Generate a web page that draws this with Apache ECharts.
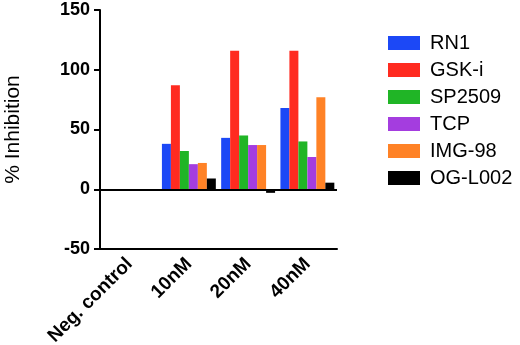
<!DOCTYPE html>
<html>
<head>
<meta charset="utf-8">
<script src="https://cdn.jsdelivr.net/npm/echarts@6/dist/echarts.min.js"></script>
<style>
html, body { margin: 0; padding: 0; background: #fff; }
#main { width: 520px; height: 345px; }
</style>
</head>
<body>
<div id="main"></div>
<script>
// 数据
var categories = ['Neg. control', '10nM', '20nM', '40nM'];
var seriesNames = ['RN1', 'GSK-i', 'SP2509', 'TCP', 'IMG-98', 'OG-L002'];
var rn1 = [0, 38, 43, 68];
var gski = [0, 87, 116, 116];
var sp2509 = [0, 32, 45, 40];
var tcp = [0, 21, 37, 27];
var img98 = [0, 22, 37, 77];
var ogl002 = [0, 9, -3, 5.5];
var yTicks = [-50, 0, 50, 100, 150];
var colors = ['#1c48f6', '#ff2b20', '#20b526', '#a43ddf', '#ff8226', '#000000'];

var chart = echarts.init(document.getElementById('main'));
var allData = [rn1, gski, sp2509, tcp, img98, ogl002];
var series = [];
for (var i = 0; i < seriesNames.length; i++) {
    series.push({
        name: seriesNames[i],
        type: 'bar',
        data: allData[i],
        barGap: 0,
        barCategoryGap: '9%',
        itemStyle: { color: colors[i] }
    });
}
// 零线
series[0].markLine = {
    silent: true,
    symbol: 'none',
    label: { show: false },
    lineStyle: { color: '#000', width: 2, type: 'solid' },
    data: [{ yAxis: 0 }]
};

chart.setOption({
    animation: false,
    grid: { left: 100, right: 183, top: 10, bottom: 96, outerBoundsMode: 'none', containLabel: false },
    legend: {
        orient: 'vertical',
        left: 383,
        top: 28,
        itemWidth: 32,
        itemHeight: 14,
        itemGap: 7,
        icon: 'rect',
        data: seriesNames,
        textStyle: {
            fontSize: 20,
            lineHeight: 18,
            color: '#000',
            fontFamily: 'Liberation Sans, Arial, sans-serif',
            padding: [0, 0, 0, 5]
        }
    },
    xAxis: {
        type: 'category',
        data: categories,
        axisLine: { onZero: false, lineStyle: { color: '#000', width: 2 } },
        axisTick: { alignWithLabel: true, length: 6, lineStyle: { color: '#000', width: 2 } },
        axisLabel: {
            rotate: 45,
            margin: 12,
            color: '#000',
            fontWeight: 'bold',
            fontSize: 19,
            fontFamily: 'Liberation Sans, Arial, sans-serif'
        }
    },
    yAxis: {
        type: 'value',
        min: yTicks[0],
        max: yTicks[yTicks.length - 1],
        interval: 50,
        name: '% Inhibition',
        nameLocation: 'middle',
        nameGap: 76,
        nameTextStyle: {
            fontSize: 21,
            color: '#000',
            fontFamily: 'Liberation Sans, Arial, sans-serif'
        },
        splitLine: { show: false },
        axisLine: { show: true, lineStyle: { color: '#000', width: 2 } },
        axisTick: { show: true, length: 6, lineStyle: { color: '#000', width: 2 } },
        axisLabel: {
            margin: 10,
            color: '#000',
            fontWeight: 'bold',
            fontSize: 18,
            fontFamily: 'Liberation Sans, Arial, sans-serif'
        }
    },
    series: series
});
</script>
</body>
</html>
